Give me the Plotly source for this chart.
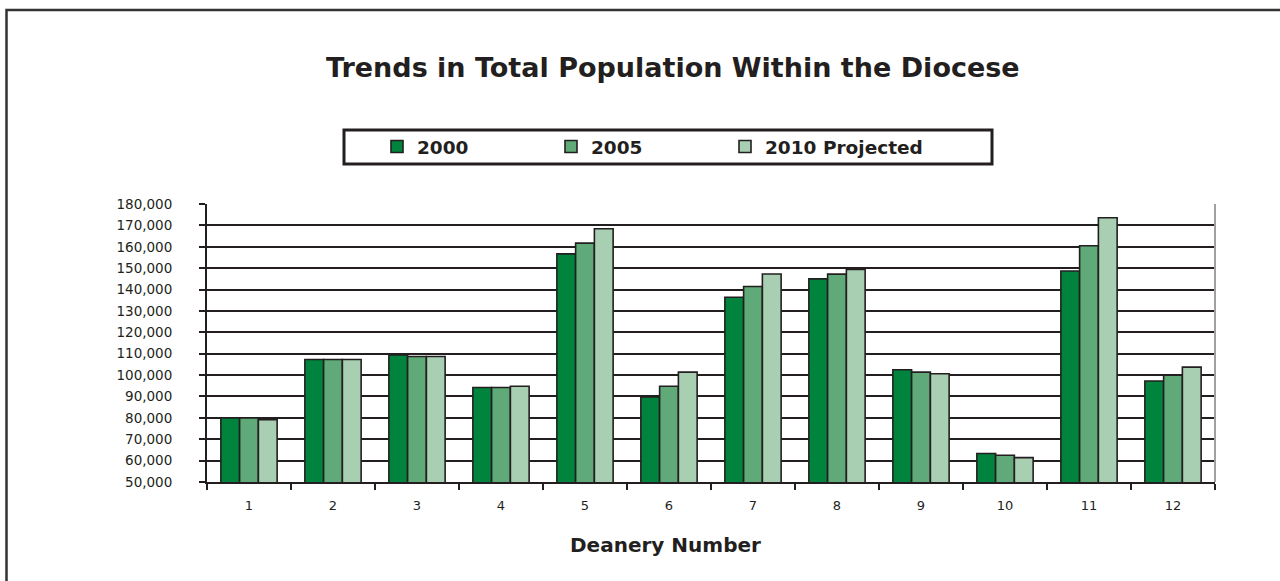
import plotly.graph_objects as go

deaneries = ["1", "2", "3", "4", "5", "6", "7", "8", "9", "10", "11", "12"]
pop_2000 = [80000, 107300, 109400, 94200, 156700, 89800, 136400, 145000, 102500, 63300, 148700, 97200]
pop_2005 = [80000, 107300, 108700, 94200, 161700, 94800, 141400, 147200, 101400, 62500, 160500, 100000]
pop_2010 = [79100, 107300, 108700, 94800, 168400, 101400, 147300, 149400, 100600, 61400, 173600, 103700]
series_names = ["2000", "2005", "2010 Projected"]
series_colors = ["#00843D", "#5FAA78", "#A9CFB3"]
y_ticks = list(range(50000, 180001, 10000))

ink = "#231F20"
W, H = 1280, 581
L, R, T, B = 207, 65, 204, 99
pw, ph = W - L - R, H - T - B


def px(x):
    return (x - L) / pw


def py(y):
    return (H - B - y) / ph


legend_ids = ["legend", "legend2", "legend3"]
legend_text_x = [417, 591, 765]

fig = go.Figure()
for name, vals, col, lid in zip(series_names, [pop_2000, pop_2005, pop_2010], series_colors, legend_ids):
    fig.add_trace(go.Bar(
        x=deaneries, y=vals, name=name, legend=lid,
        marker=dict(color=col, line=dict(color=ink, width=1.6)),
    ))

legend_common = dict(
    orientation="h", xanchor="left", y=py(147), yanchor="middle",
    font=dict(family="DejaVu Sans", size=18.5, color=ink, weight="bold"),
    bgcolor="rgba(0,0,0,0)", borderwidth=0,
)

fig.update_layout(
    width=W, height=H,
    margin=dict(l=L, r=R, t=T, b=B, pad=0),
    paper_bgcolor="white", plot_bgcolor="white",
    barmode="group", bargap=0.33, bargroupgap=0,
    font=dict(family="DejaVu Sans", color=ink),
    showlegend=True,
    legend=dict(x=px(legend_text_x[0] - 40), **legend_common),
    legend2=dict(x=px(legend_text_x[1] - 40), **legend_common),
    legend3=dict(x=px(legend_text_x[2] - 40), **legend_common),
    xaxis=dict(
        type="category", range=[-0.5, 11.5],
        showline=True, linecolor=ink, linewidth=2,
        ticks="outside", tickson="boundaries", ticklen=6, tickwidth=1.5, tickcolor=ink,
        tickfont=dict(family="DejaVu Sans", size=13, color=ink),
        ticklabelstandoff=10,
        showgrid=False,
    ),
    yaxis=dict(
        range=[50000, 180000], tickvals=y_ticks, tickformat=",",
        showline=True, linecolor=ink, linewidth=2,
        ticks="outside", ticklen=6, tickwidth=1.5, tickcolor=ink,
        tickfont=dict(family="DejaVu Sans", size=13.5, color=ink),
        ticklabelstandoff=24,
        showgrid=True, gridcolor=ink, gridwidth=1.5,
        zeroline=False,
    ),
    shapes=[
        # outer chart border
        dict(type="rect", xref="paper", yref="paper",
             x0=px(6.5), x1=px(1300), y0=py(600), y1=py(10),
             line=dict(color="#333333", width=2.5), fillcolor="rgba(0,0,0,0)", layer="above"),
        # legend box
        dict(type="rect", xref="paper", yref="paper",
             x0=px(344), x1=px(992), y0=py(164), y1=py(130),
             line=dict(color=ink, width=3), fillcolor="rgba(0,0,0,0)", layer="above"),
        # right plot-area edge
        dict(type="line", xref="paper", yref="paper",
             x0=1, x1=1, y0=0, y1=1,
             line=dict(color="#A0A0A0", width=2), layer="above"),
    ],
    annotations=[
        dict(text="<b>Trends in Total Population Within the Diocese</b>",
             xref="paper", yref="paper", x=px(673), y=py(67),
             xanchor="center", yanchor="middle", showarrow=False,
             font=dict(family="DejaVu Sans", size=27, color=ink)),
        dict(text="<b>Deanery Number</b>",
             xref="paper", yref="paper", x=px(665), y=py(545),
             xanchor="center", yanchor="middle", showarrow=False,
             font=dict(family="DejaVu Sans", size=20, color=ink)),
    ],
)

fig.write_html("out.html")
